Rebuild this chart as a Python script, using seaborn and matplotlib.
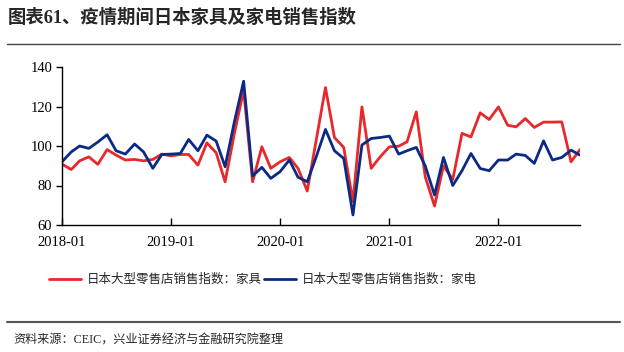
import pandas as pd
import matplotlib.pyplot as plt
import matplotlib.dates as mdates
from matplotlib.lines import Line2D
import seaborn as sns

plt.switch_backend('Agg')

# 月度数据 2018-01 ~ 2022-10
months = pd.date_range('2018-01-01', periods=58, freq='MS')
furniture = [90.8, 88.1, 92.5, 94.5, 90.7, 98.2, 95.4, 92.9, 93.2, 92.5, 93.2, 95.9,
             95.0, 95.7, 95.7, 90.3, 101.6, 96.6, 81.9, 106.3, 128.2, 81.9, 99.6, 88.7,
             92.0, 94.2, 88.7, 77.2, 103.0, 129.6, 104.3, 99.3, 71.8, 119.8, 88.7, 94.5,
             99.6, 99.9, 102.1, 117.3, 84.4, 69.6, 90.0, 83.0, 106.4, 104.6, 116.8, 113.4,
             119.8, 110.5, 109.7, 113.9, 109.4, 112.1, 112.1, 112.2, 92.0, 98.2]
appliance = [92.0, 97.0, 100.0, 98.8, 102.0, 105.7, 97.6, 95.9, 101.0, 97.0, 88.7, 95.7,
             95.9, 96.2, 103.3, 97.6, 105.5, 102.5, 89.5, 112.2, 132.8, 84.8, 89.2, 83.6,
             87.0, 92.9, 84.2, 81.9, 94.5, 108.4, 97.6, 93.7, 65.1, 100.5, 103.8, 104.3,
             105.0, 95.9, 97.6, 99.3, 89.9, 75.2, 94.2, 80.0, 87.5, 96.2, 88.6, 87.5,
             92.9, 92.9, 95.9, 95.2, 91.2, 102.6, 92.9, 94.2, 97.9, 95.4]
series_names = ['日本大型零售店销售指数：家具', '日本大型零售店销售指数：家电']
colors = ['#E8282B', '#0B2A83']
yticks = [60, 80, 100, 120, 140]
xtick_dates = pd.to_datetime(['2018-01-01', '2019-01-01', '2020-01-01', '2021-01-01', '2022-01-01'])

df = pd.concat([
    pd.DataFrame({'month': months, 'value': furniture, 'series': series_names[0]}),
    pd.DataFrame({'month': months, 'value': appliance, 'series': series_names[1]}),
])

sns.set_style('ticks')
plt.rcParams['font.family'] = ['Liberation Serif', 'Noto Sans CJK SC']

fig = plt.figure(figsize=(6.24, 3.52), dpi=100)
ax = fig.add_axes([62 / 624, 1 - 225 / 352, 518 / 624, 158 / 352])

sns.lineplot(data=df, x='month', y='value', hue='series', hue_order=series_names,
             palette=dict(zip(series_names, colors)), linewidth=2.0, ax=ax)

ax.set_xlim(months[0], months[-1])
ax.set_ylim(60, 140)
ax.set_yticks(yticks)
ax.set_xticks(xtick_dates)
ax.xaxis.set_major_formatter(mdates.DateFormatter('%Y-%m'))
ax.set_xlabel('')
ax.set_ylabel('')
for s in ['top', 'right']:
    ax.spines[s].set_visible(False)
for s in ['left', 'bottom']:
    ax.spines[s].set_color('black')
    ax.spines[s].set_linewidth(1.0)
ax.tick_params(axis='y', direction='out', length=4, width=1, colors='black', labelsize=10.5, pad=3)
ax.tick_params(axis='x', direction='in', length=5, width=1, colors='black', labelsize=10.5, pad=8)

sns.move_legend(ax, 'center', bbox_to_anchor=(263 / 624, 1 - 280 / 352),
                bbox_transform=fig.transFigure, ncol=2, frameon=False, title=None,
                fontsize=9, handlelength=2.5, handletextpad=0.5, columnspacing=0.2)

# 标题与分隔线
fig.text(8 / 624, 1 - 18 / 352, '图表61、疫情期间日本家具及家电销售指数',
         fontsize=13.2, fontweight='bold', va='center', ha='left',
         family=['Liberation Serif', 'Noto Sans CJK SC'])
fig.add_artist(Line2D([7 / 624, 620 / 624], [1 - 44 / 352] * 2, color='#444444', lw=1.0))
fig.add_artist(Line2D([7 / 624, 620 / 624], [1 - 322 / 352] * 2, color='#555555', lw=1.5))
fig.text(13 / 624, 1 - 341 / 352, '资料来源：CEIC，兴业证券经济与金融研究院整理',
         fontsize=8.7, va='center', ha='left')

fig.savefig('out.png', dpi=100)
